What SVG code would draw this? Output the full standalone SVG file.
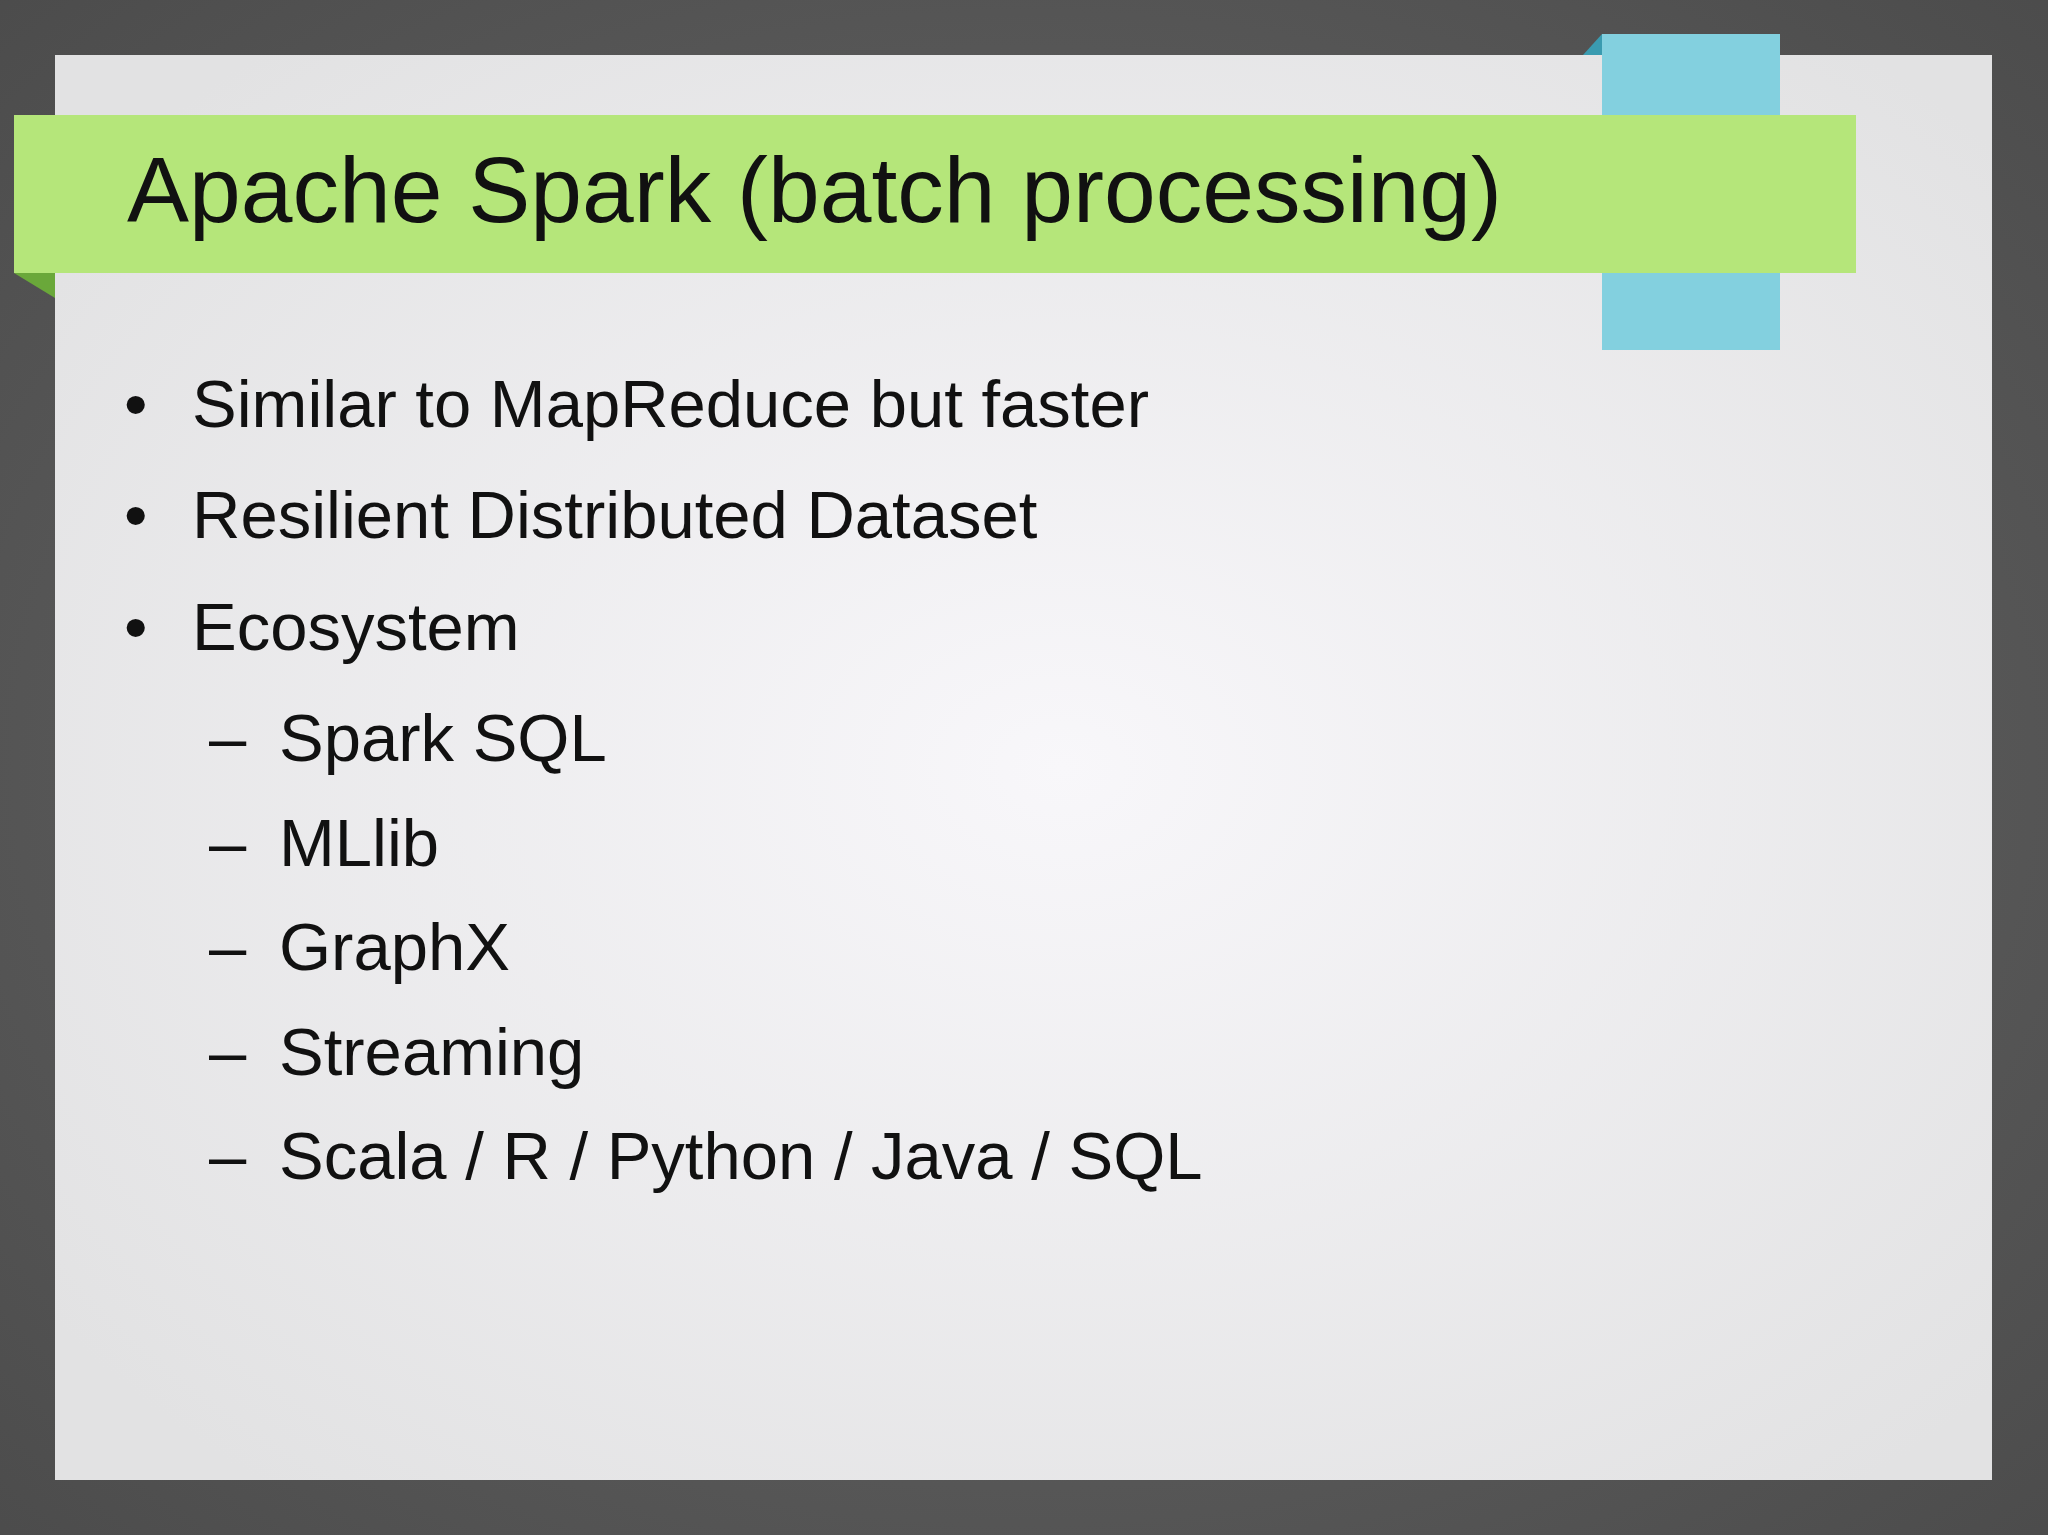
<svg xmlns="http://www.w3.org/2000/svg" width="2048" height="1535" viewBox="0 0 2048 1535">
<defs>
<radialGradient id="bg" cx="50%" cy="50%" r="75%"><stop offset="0" stop-color="#6a6a6a"/><stop offset="1" stop-color="#4a4a4a"/></radialGradient>
<radialGradient id="slide" cx="52%" cy="50%" r="65%"><stop offset="0" stop-color="#f8f7fa"/><stop offset="1" stop-color="#e2e2e3"/></radialGradient>
<style>
.t{font-family:"Liberation Sans",Arial,sans-serif;fill:#111}
.b{font-size:67px}
</style>
</defs>
<rect width="2048" height="1535" fill="url(#bg)"/>
<rect x="55" y="55" width="1937" height="1425" fill="url(#slide)"/>
<g id="blue-tab">
<polygon points="1583,55 1602,34 1602,55" fill="#3a9bb0"/>
<rect x="1602" y="34" width="178" height="316" fill="#83d0df"/>
</g>
<g id="title-bar">
<polygon points="14,273 55,273 55,298" fill="#6aa83a"/>
<rect x="14" y="115" width="1842" height="158" fill="#b5e67a"/>
<text class="t" x="127" y="222" font-size="93">Apache Spark (batch processing)</text>
</g>
<g id="bullets" class="t b">
<text x="124" y="427">•</text><text x="192" y="427">Similar to MapReduce but faster</text>
<text x="124" y="538">•</text><text x="192" y="538">Resilient Distributed Dataset</text>
<text x="124" y="650">•</text><text x="192" y="650">Ecosystem</text>
<text x="209" y="761">–</text><text x="279" y="761">Spark SQL</text>
<text x="209" y="866">–</text><text x="279" y="866">MLlib</text>
<text x="209" y="970">–</text><text x="279" y="970">GraphX</text>
<text x="209" y="1075">–</text><text x="279" y="1075">Streaming</text>
<text x="209" y="1179">–</text><text x="279" y="1179">Scala / R / Python / Java / SQL</text>
</g>
</svg>
